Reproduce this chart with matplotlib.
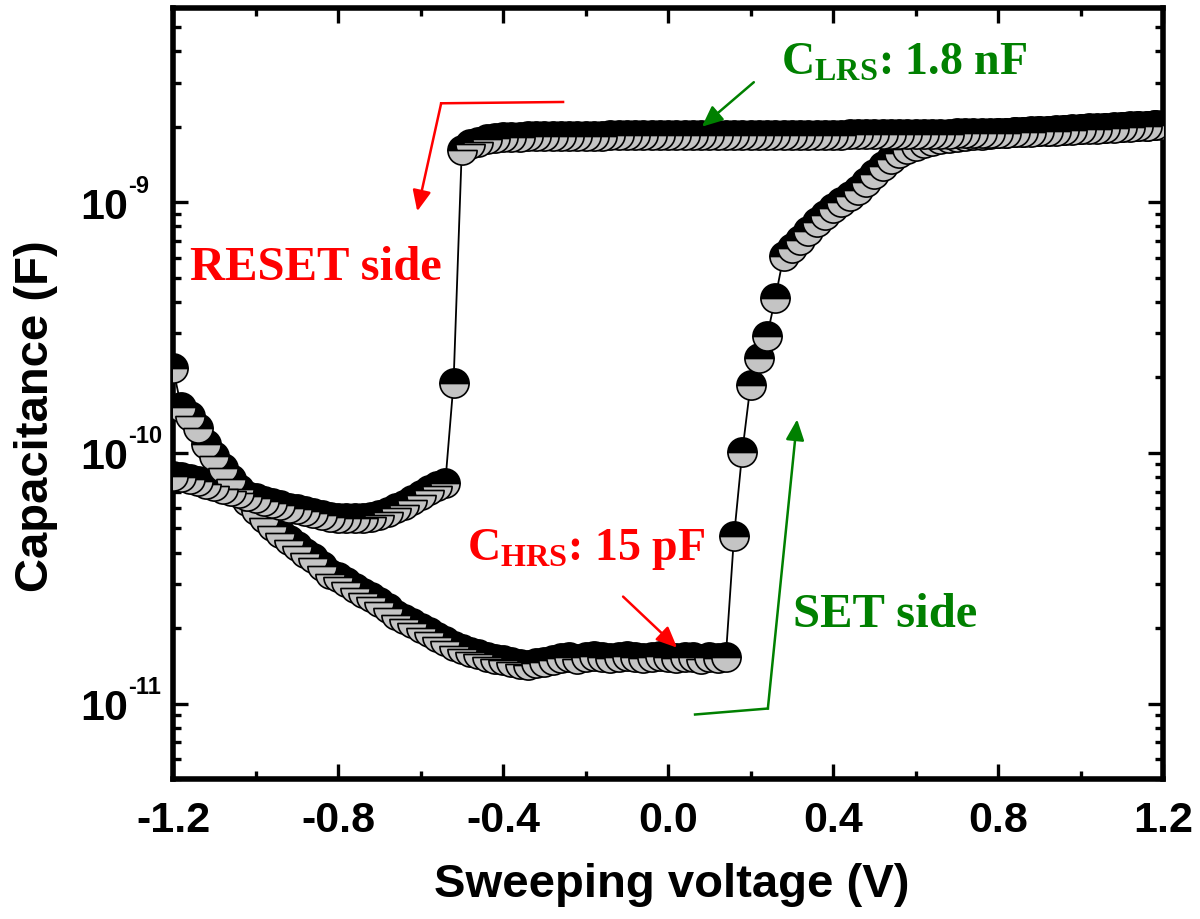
import numpy as np
import matplotlib
matplotlib.use("Agg")
import matplotlib.pyplot as plt
from matplotlib import ticker, transforms
from matplotlib.patches import FancyArrowPatch

plt.rcParams['mathtext.fontset'] = 'custom'
plt.rcParams['mathtext.rm'] = 'Liberation Serif:bold'
plt.rcParams['mathtext.bf'] = 'Liberation Serif:bold'
plt.rcParams['mathtext.it'] = 'Liberation Serif:bold'

# ---------------- data (capacitance in pF, sweep step 0.02 V) ----------------
# forward sweep, HRS branch: -1.20 V ... 0.14 V
C_hrs_fwd = [217, 152, 140, 126, 108, 97, 87, 79, 72, 64,
             59, 55, 51, 48, 45, 42.5, 40, 38, 35.5, 33,
             32, 30.5, 29, 27.5, 26.5, 25.5, 24, 22.5, 21.8, 21,
             20, 19.2, 18.4, 17.7, 17.0, 16.5, 16.1, 15.7, 15.4, 15.1,
             14.9, 14.6, 14.4, 14.3, 14.5, 14.7, 14.9, 15.2, 15.3, 15.1,
             15.3, 15.5, 15.4, 15.2, 15.4, 15.5, 15.3, 15.2, 15.4, 15.5,
             15.3, 15.2, 15.4, 15.3, 15.1, 15.3, 15.2, 15.3]
# forward sweep, SET and LRS: 0.16 V ... 1.20 V
C_set_fwd = [46.5, 101, 187, 240, 292, 414, 608,
             655, 705, 770, 830, 890, 950, 1000, 1060, 1120, 1200,
             1300, 1390, 1490, 1570, 1630, 1680, 1720, 1750, 1780, 1800,
             1820, 1835, 1850, 1860, 1870, 1880, 1890, 1900, 1905, 1915,
             1920, 1930, 1940, 1945, 1955, 1960, 1970, 1975, 1985, 1990,
             2000, 2005, 2015, 2020, 2030, 2040]
# reverse sweep, LRS: 1.18 V ... -0.50 V
C_lrs_rev = [2030, 2020, 2010, 2000, 1990, 1985, 1975, 1965, 1960, 1950,
             1945, 1935, 1930, 1920, 1915, 1910, 1905, 1900, 1895, 1890,
             1885, 1885, 1880, 1880, 1880, 1875, 1875, 1875, 1870, 1870,
             1870, 1870, 1870, 1865, 1865, 1865, 1865, 1865, 1860, 1860,
             1860, 1860, 1860, 1860, 1860, 1855, 1855, 1855, 1855, 1855,
             1855, 1855, 1855, 1850, 1850, 1850, 1850, 1850, 1850, 1850,
             1850, 1850, 1845, 1845, 1845, 1845, 1845, 1840, 1840, 1840,
             1840, 1840, 1835, 1835, 1835, 1830, 1830, 1825, 1820, 1815,
             1800, 1780, 1740, 1700, 1620]
# reverse sweep, RESET: -0.52 V, -0.54 V
C_reset_rev = [190, 76]
# reverse sweep, after RESET: -0.56 V ... -1.20 V
C_hrs_rev = [74, 71, 68, 65, 62, 60, 58, 56.5, 55.5, 55,
             55, 55, 55, 55.5, 56.5, 57.5, 58.5, 59.5, 60.5, 62,
             63, 64.5, 66, 67.5, 69, 70.5, 72, 73.5, 75, 77,
             78.5, 80, 81]

STEP = 0.02
V_hrs_fwd = -1.20 + STEP * np.arange(len(C_hrs_fwd))
V_set_fwd = 0.16 + STEP * np.arange(len(C_set_fwd))
V_lrs_rev = 1.18 - STEP * np.arange(len(C_lrs_rev))
V_reset_rev = -0.52 - STEP * np.arange(len(C_reset_rev))
V_hrs_rev = -0.56 - STEP * np.arange(len(C_hrs_rev))

V = np.concatenate([V_hrs_fwd, V_set_fwd, V_lrs_rev, V_reset_rev, V_hrs_rev])
C = np.concatenate([C_hrs_fwd, C_set_fwd, C_lrs_rev, C_reset_rev, C_hrs_rev]) * 1e-12

x_major = [-1.2, -0.8, -0.4, 0.0, 0.4, 0.8, 1.2]
x_labels = ['-1.2', '-0.8', '-0.4', '0.0', '0.4', '0.8', '1.2']
y_exponents = [-11, -10, -9]

# ---------------- figure ----------------
fig = plt.figure(figsize=(12, 9.2), dpi=100)
ax = fig.add_axes([0.1442, 0.1522, 0.825, 0.838])

ax.plot(V, C, '-', color='black', lw=1.3, marker='o', markersize=21,
        fillstyle='top', markerfacecolor='black', markerfacecoloralt='#c4c4c4',
        markeredgecolor='black', markeredgewidth=1.2, zorder=3)

ax.set_yscale('log')
ax.set_xlim(-1.2, 1.2)
ax.set_ylim(5e-12, 5.95e-9)

ax.set_xticks(x_major)
ax.set_xticklabels(x_labels)
ax.xaxis.set_minor_locator(ticker.MultipleLocator(0.2))
ax.yaxis.set_major_locator(ticker.FixedLocator([10.0 ** e for e in y_exponents]))
ax.yaxis.set_minor_locator(ticker.LogLocator(base=10, subs=np.arange(2, 10)))
ax.yaxis.set_major_formatter(ticker.FixedFormatter(['10'] * len(y_exponents)))
ax.yaxis.set_minor_formatter(ticker.NullFormatter())

for sp in ax.spines.values():
    sp.set_linewidth(4)

ax.tick_params(which='both', direction='in', top=True, right=True, width=2.4)
ax.tick_params(which='major', length=11)
ax.tick_params(which='minor', length=6)
ax.tick_params(axis='x', which='major', pad=15)
ax.tick_params(axis='y', which='major', pad=32)
for lab in ax.get_xticklabels() + ax.get_yticklabels():
    lab.set_fontfamily('Liberation Sans')
    lab.set_fontweight('bold')
    lab.set_fontsize(31)

# superscript exponents of the y tick labels
sup_trans = transforms.offset_copy(
    transforms.blended_transform_factory(ax.transAxes, ax.transData),
    fig=fig, x=0, y=17, units='dots')
for e in y_exponents:
    ax.text(-0.0455, 10.0 ** e, str(e), transform=sup_trans, ha='left',
            va='center', fontsize=17, fontweight='bold',
            fontfamily='Liberation Sans', clip_on=False)

ax.set_xlabel('Sweeping voltage (V)', fontsize=34, fontweight='bold',
              fontfamily='Liberation Sans')
ax.set_ylabel('Capacitance (F)', fontsize=34, fontweight='bold',
              fontfamily='Liberation Sans')
ax.xaxis.set_label_coords(0.504, -0.1077)
ax.xaxis.label.set_verticalalignment('top')
ax.yaxis.set_label_coords(-0.116, 0.472)

# ---------------- annotations ----------------
RED = '#ff0000'
GREEN = '#008000'
serif = dict(fontfamily='Liberation Serif', fontweight='bold')
head = '-|>,head_length=0.9,head_width=0.4'


def arrow(p0, p1, color):
    ax.add_patch(FancyArrowPatch(p0, p1, arrowstyle=head, color=color, lw=1.8,
                                 shrinkA=0, shrinkB=0, mutation_scale=14,
                                 zorder=5))


# RESET arrow
ax.plot([-0.2545, -0.550], [2.51e-9, 2.48e-9], color=RED, lw=1.8, zorder=4)
arrow((-0.550, 2.48e-9), (-0.608, 9.2e-10), RED)
# SET arrow
ax.plot([0.0655, 0.242], [9.04e-12, 9.55e-12], color=GREEN, lw=1.8, zorder=4)
arrow((0.242, 9.55e-12), (0.313, 1.36e-10), GREEN)
# C_HRS arrow
arrow((-0.109, 2.67e-11), (0.022, 1.67e-11), RED)
# C_LRS arrow
arrow((0.208, 3.01e-9), (0.082, 2.0e-9), GREEN)

ax.text(-1.159, 4.93e-10, 'RESET side', color=RED, fontsize=35,
        ha='left', va='baseline', **serif)
ax.text(0.303, 2.03e-11, 'SET side', color=GREEN, fontsize=35,
        ha='left', va='baseline', **serif)
ax.text(-0.487, 3.76e-11, r'C$_{\mathbf{HRS}}$: 15 pF', color=RED, fontsize=33,
        ha='left', va='baseline', **serif)
ax.text(0.274, 3.24e-9, r'C$_{\mathbf{LRS}}$: 1.8 nF', color=GREEN, fontsize=33,
        ha='left', va='baseline', **serif)

fig.savefig('out.png', dpi=100)
